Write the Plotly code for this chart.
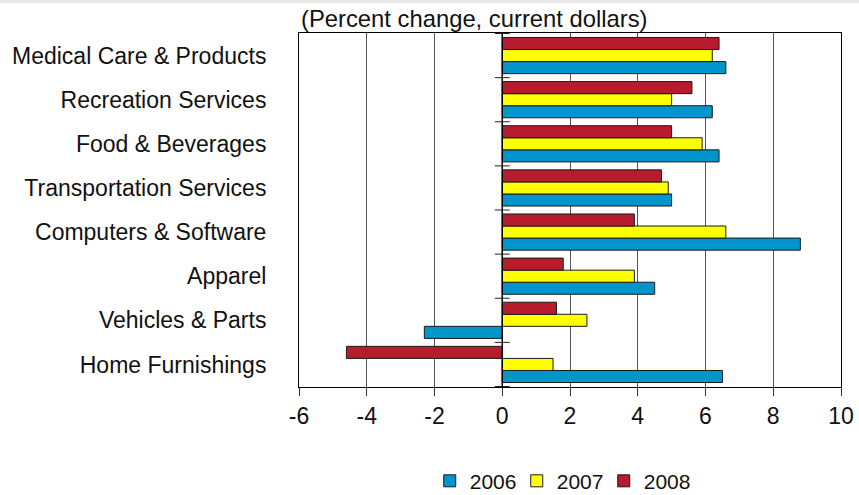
import plotly.graph_objects as go

# Categories, top to bottom as displayed
categories = [
    "Medical Care & Products",
    "Recreation Services",
    "Food & Beverages",
    "Transportation Services",
    "Computers & Software",
    "Apparel",
    "Vehicles & Parts",
    "Home Furnishings",
]

# Percent change, current dollars
values_2006 = [6.6, 6.2, 6.4, 5.0, 8.8, 4.5, -2.3, 6.5]
values_2007 = [6.2, 5.0, 5.9, 4.9, 6.6, 3.9, 2.5, 1.5]
values_2008 = [6.4, 5.6, 5.0, 4.7, 3.9, 1.8, 1.6, -4.6]

series = [
    ("2006", values_2006, "#0096CB"),
    ("2007", values_2007, "#FFFF00"),
    ("2008", values_2008, "#B71C2C"),
]

x_ticks = [-6, -4, -2, 0, 2, 4, 6, 8, 10]

W, H = 859, 495
M_L, M_R, M_T, M_B = 299, 18, 33, 108
plot_w = W - M_L - M_R
plot_h = H - M_T - M_B

FONT = "Liberation Sans, Arial, sans-serif"

fig = go.Figure()
for name, vals, color in series:
    fig.add_trace(go.Bar(
        y=categories,
        x=vals,
        name=name,
        orientation="h",
        marker=dict(color=color, line=dict(color="#1a1a1a", width=1)),
    ))

# Category boundary ticks drawn across the zero line
shapes = []
for k in range(len(categories) + 1):
    shapes.append(dict(
        type="line", xref="x", yref="y",
        x0=-0.22, x1=0.22, y0=k - 0.5, y1=k - 0.5,
        line=dict(color="#222222", width=1),
    ))
# Zero line
shapes.append(dict(
    type="line", xref="x", yref="paper", x0=0, x1=0, y0=0, y1=1,
    line=dict(color="#000000", width=1.5),
))
# Thin grey strip along the top edge of the page
shapes.append(dict(
    type="rect", xref="paper", yref="paper",
    x0=-M_L / plot_w, x1=1 + M_R / plot_w,
    y0=1 + (M_T - 3) / plot_h, y1=1 + M_T / plot_h,
    fillcolor="#E8E8E8", line=dict(width=0), layer="below",
))

fig.update_layout(
    width=W, height=H,
    margin=dict(l=M_L, r=M_R, t=M_T, b=M_B, autoexpand=False),
    paper_bgcolor="white",
    plot_bgcolor="white",
    barmode="group",
    bargap=0.18,
    bargroupgap=0,
    font=dict(family=FONT, size=23, color="#111111"),
    showlegend=True,
    legend=dict(
        orientation="h",
        x=0.482, xanchor="center",
        y=-0.266, yanchor="middle",
        font=dict(size=21),
        traceorder="normal",
        itemwidth=30,
        entrywidth=42,
        entrywidthmode="pixels",
    ),
    xaxis=dict(
        range=[-6, 10],
        tickvals=x_ticks,
        ticktext=[str(v) for v in x_ticks],
        showgrid=True,
        gridcolor="#555555",
        gridwidth=1,
        zeroline=False,
        showline=True,
        linecolor="#000000",
        linewidth=1,
        mirror=True,
        ticks="outside",
        ticklen=8,
        tickcolor="#333333",
        tickfont=dict(size=23),
    ),
    yaxis=dict(
        type="category",
        categoryorder="array",
        categoryarray=categories[::-1],
        showgrid=False,
        zeroline=False,
        showline=True,
        linecolor="#000000",
        linewidth=1,
        mirror=True,
        ticks="",
        ticklabelstandoff=27,
        tickfont=dict(size=23),
    ),
    shapes=shapes,
    annotations=[dict(
        text="(Percent change, current dollars)",
        xref="paper", yref="paper",
        x=0, y=1, xanchor="left", yanchor="bottom",
        yshift=-1,
        showarrow=False,
        font=dict(size=23.8),
    )],
)

fig.write_html("out.html")
